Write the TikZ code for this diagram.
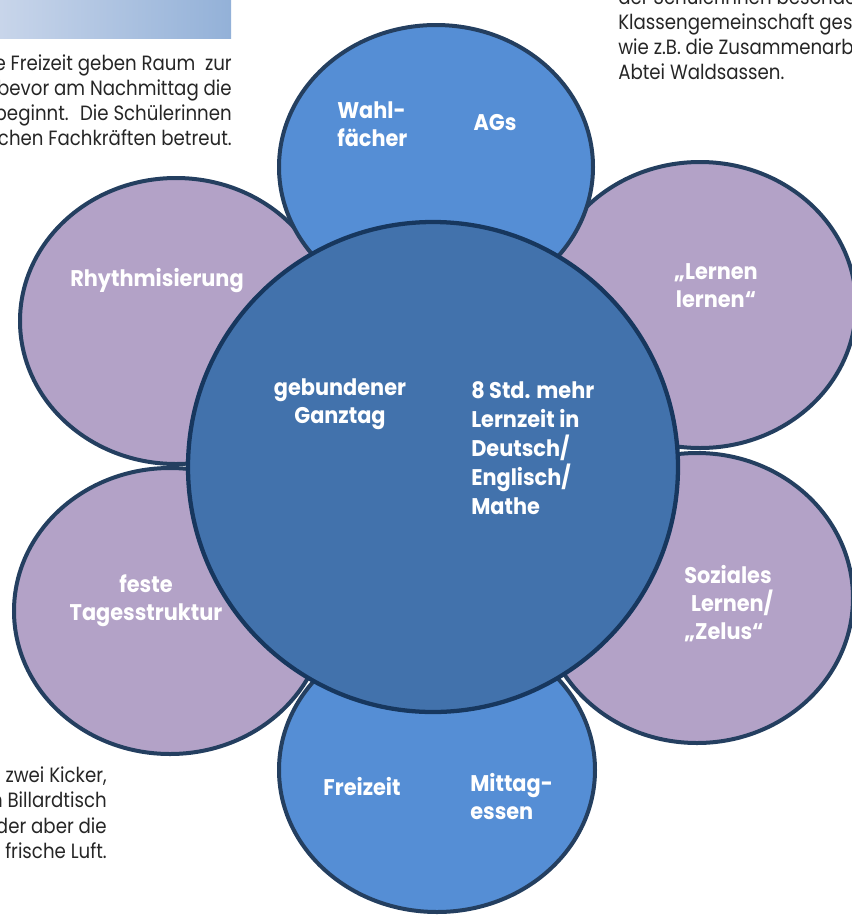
\documentclass[tikz,border=0pt]{standalone}
\usepackage{fontspec}
\setmainfont{Poppins}
\newfontfamily\petalfont{Poppins}[FakeStretch=0.92]
\newfontfamily\pagefont{Poppins}[FakeStretch=0.88]
\definecolor{petalblue}{HTML}{558ED5}
\definecolor{petalviolet}{HTML}{B3A2C7}
\definecolor{hubblue}{HTML}{4272AC}
\definecolor{petalline}{HTML}{243F60}
\definecolor{hubline}{HTML}{17375E}
\definecolor{barleft}{HTML}{C8D5EA}
\definecolor{barright}{HTML}{93B1D8}
\begin{document}
\begin{tikzpicture}[x=0.75pt,y=-0.75pt,
  petal/.style={draw=petalline,line width=3pt},
  petaltext/.style={text=white,font=\petalfont\bfseries\fontsize{17}{21}\selectfont,inner sep=0pt},
  bodytext/.style={text=black!85,font=\pagefont\fontsize{15.5}{18.75}\selectfont,inner sep=0pt}]
\useasboundingbox (0,0) rectangle (852,915);
\clip (0,0) rectangle (852,915);
% page text round the picture
\shade[left color=barleft,right color=barright] (0,0) rectangle (231,38);
\node[bodytext,anchor=base east] (free1) at (232,70) {e Freizeit geben Raum \ zur};
\node[bodytext,anchor=base east] (free2) at (232,95) {bevor am Nachmittag die};
\node[bodytext,anchor=base east] (free3) at (232,120) {beginnt. \ Die Schülerinnen};
\node[bodytext,anchor=base east] (free4) at (232,145) {chen Fachkräften betreut.};
\node[bodytext,anchor=base west] (class1) at (618,4) {der Schülerinnen besonde};
\node[bodytext,anchor=base west] (class2) at (618,29) {Klassengemeinschaft gest};
\node[bodytext,anchor=base west] (class3) at (618,54) {wie z.B. die Zusammenarb};
\node[bodytext,anchor=base west] (class4) at (618,79) {Abtei Waldsassen.};
\node[bodytext,anchor=base east] (kick1) at (107,782) {zwei Kicker,};
\node[bodytext,anchor=base east] (kick2) at (107,807) {n Billardtisch};
\node[bodytext,anchor=base east] (kick3) at (107,833) {der aber die};
\node[bodytext,anchor=base east] (kick4) at (107,858) {e frische Luft.};
% petals
\draw[petal,fill=petalviolet] (176,321) ellipse [x radius=156,y radius=143];
\draw[petal,fill=petalviolet] (170,611) ellipse [x radius=156,y radius=143];
\draw[petal,fill=petalviolet] (700,305) ellipse [x radius=156,y radius=143];
\draw[petal,fill=petalviolet] (697,598) ellipse [x radius=156,y radius=145];
\draw[petal,fill=petalblue] (436,167) ellipse [x radius=157,y radius=142];
\draw[petal,fill=petalblue] (437,770) ellipse [x radius=158,y radius=142];
% centre
\draw[draw=hubline,line width=3.2pt,fill=hubblue] (433,467) circle [radius=245];
\node[petaltext,align=center] (bound) at (340,404) {gebundener\\Ganztag};
\node[petaltext,align=left,anchor=west,font=\petalfont\bfseries\fontsize{17}{21.7}\selectfont] (hours) at (471,448) {8 Std. mehr\\Lernzeit in\\Deutsch/\\Englisch/\\Mathe};
\node[petaltext,align=left,anchor=west] (elect) at (337,124) {Wahl-\\fächer};
\node[petaltext] (ags) at (495,123) {AGs};
\node[petaltext] (rhythm) at (157,281) {Rhythmisierung};
\node[petaltext,align=center] (learn) at (716,286) {„Lernen\\lernen“};
\node[petaltext,align=center] (day) at (146,601) {feste\\Tagesstruktur};
\node[petaltext,align=left,anchor=west] (social) at (684,604) {Soziales\\\hspace*{0.3em}Lernen/\\„Zelus“};
\node[petaltext] (leisure) at (362,787) {Freizeit};
\node[petaltext,align=left,anchor=west] (lunch) at (470,797) {Mittag-\\essen};
\end{tikzpicture}
\end{document}
